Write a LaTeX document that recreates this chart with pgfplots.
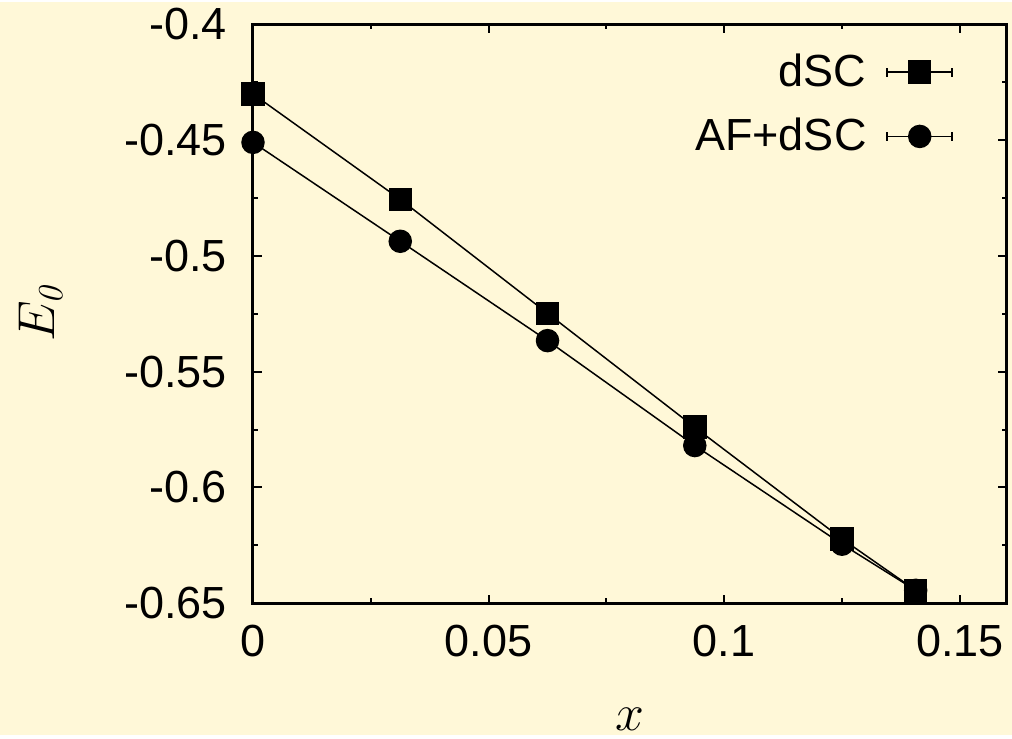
\documentclass[border=0pt]{standalone}
\usepackage{fontspec}
\setmainfont{Liberation Sans}
\newfontfamily\lmr{Latin Modern Roman}
\usepackage{pgfplots}
\pgfplotsset{compat=1.18}
\definecolor{bgcream}{HTML}{FFF8D8}

\begin{document}
\begin{tikzpicture}
% page background, same size as the reference
\fill[bgcream] (-101.2pt,-52.8pt) rectangle (303.6pt,240.4pt);
\begin{axis}[
    at={(0pt,0pt)}, anchor=south west,
    scale only axis,
    width=301.6pt, height=231.6pt,
    xmin=0, xmax=0.16,
    ymin=-0.65, ymax=-0.4,
    xtick={0,0.05,0.1,0.15},
    xticklabels={0,0.05,0.1,0.15},
    ytick={-0.65,-0.6,-0.55,-0.5,-0.45,-0.4},
    yticklabels={-0.65,-0.6,-0.55,-0.5,-0.45,-0.4},
    minor tick num=1,
    tick align=inside,
    major tick length=3.5pt,
    minor tick length=2pt,
    every tick/.style={black, line width=0.8pt},
    axis line style={line width=1.2pt},
    tick label style={font=\fontsize{18}{22}\selectfont},
    xticklabel style={yshift=-5.2pt},
    yticklabel style={xshift=-7pt},
    xlabel={$x$},
    ylabel={$E_{\hbox{\fontsize{14}{16}\lmr\itshape 0}}$},
    label style={font=\fontsize{20}{24}\selectfont},
    x label style={at={(axis description cs:0.5,-0.2)}, anchor=center},
    y label style={at={(axis description cs:-0.2805,0.5)}, anchor=center},
    clip=false,
    legend plot pos=right,
    legend cell align=right,
    reverse legend,
    legend style={draw=none, fill=none,
        at={(axis description cs:0.939,0.967)}, anchor=north east,
        font=\fontsize{18}{22}\selectfont,
        row sep=7.2pt, column sep=6pt},
    legend image code/.code={
        \draw[line width=0.6pt, mark=none] (0pt,0pt) -- (26pt,0pt)
            (0pt,-1.8pt) -- (0pt,1.8pt) (26pt,-1.8pt) -- (26pt,1.8pt);
        \draw plot coordinates {(13pt,0pt)};
    },
]
\addplot[black, line width=0.6pt, mark=*, mark size=4.4pt,
    mark options={solid, fill=black}] coordinates {
    (0,-0.451) (0.03125,-0.4937) (0.0625,-0.5366)
    (0.09375,-0.5819) (0.125,-0.6245) (0.140625,-0.6444)
};
\addlegendentry{AF+dSC}
\addplot[black, line width=0.6pt, mark=square*, mark size=4.4pt,
    mark options={solid, fill=black}] coordinates {
    (0,-0.4301) (0.03125,-0.4756) (0.0625,-0.5248)
    (0.09375,-0.5740) (0.125,-0.6222) (0.140625,-0.6444)
};
\addlegendentry{dSC}
\end{axis}
\end{tikzpicture}
\end{document}
